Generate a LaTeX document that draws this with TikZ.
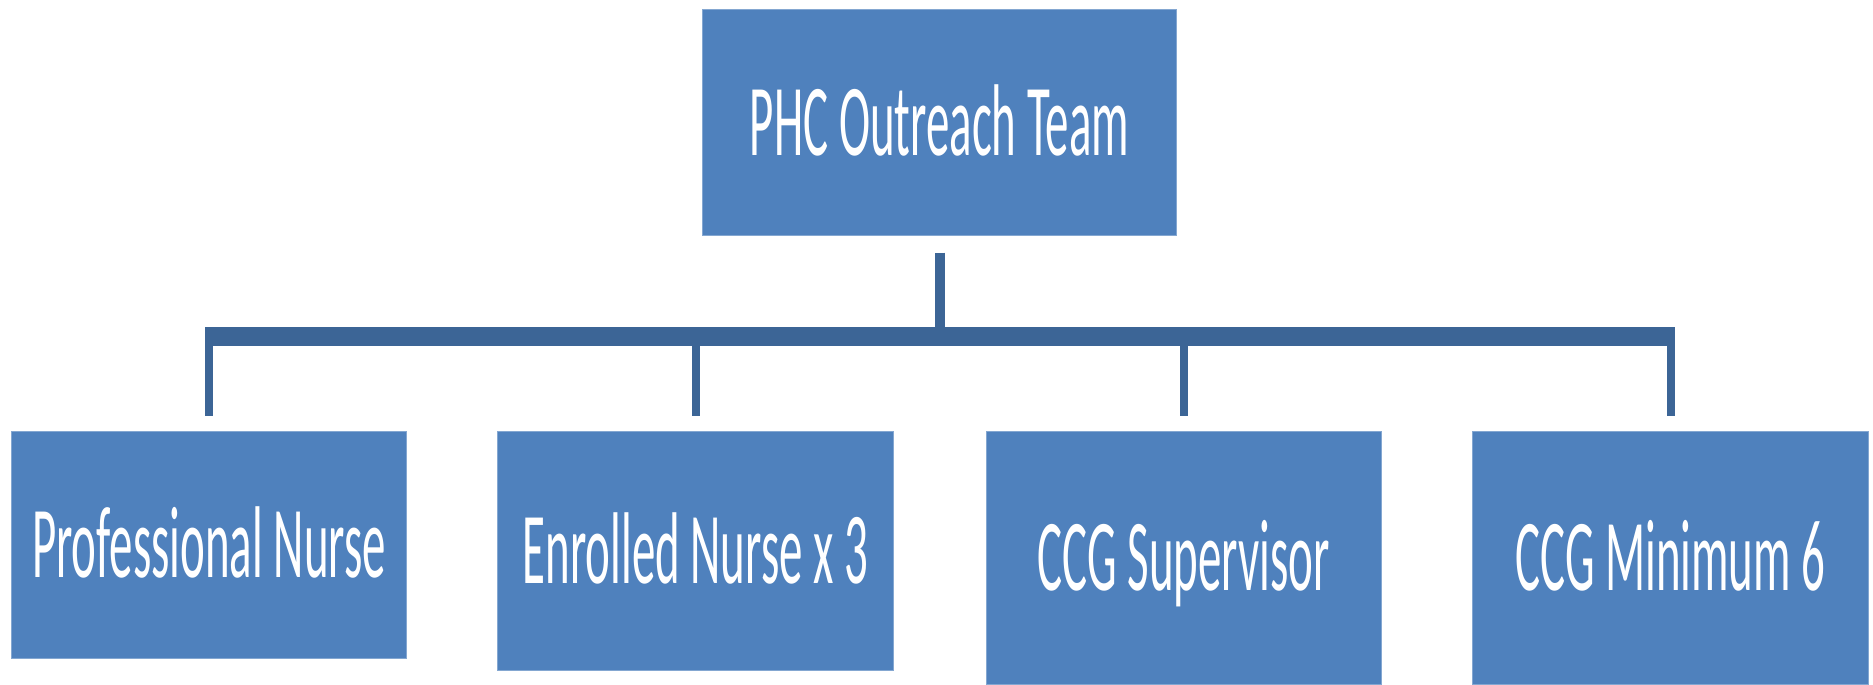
\documentclass[tikz,border=0pt]{standalone}
\usepackage{fontspec}
\setmainfont{Carlito}
\usetikzlibrary{calc}
\definecolor{boxblue}{HTML}{4F81BD}
\definecolor{connblue}{HTML}{3C6596}
\newcommand{\sq}[1]{\scalebox{0.46}[1]{#1}}
\begin{document}
\begin{tikzpicture}[x=0.01cm,y=-0.01cm,
  orgbox/.style={rectangle,fill=boxblue,draw=boxblue!70!white,line width=0.3pt,inner sep=0pt,
    text=white,font=\fontsize{29pt}{34pt}\selectfont,text height=18.7pt,text depth=0pt},
  stubline/.style={draw=connblue,line width=0.1cm},
  dropline/.style={draw=connblue,line width=0.08cm},
  barline/.style={draw=connblue,line width=0.19cm}]
\useasboundingbox (0,0) rectangle (1873,684);
\fill[white] (0,0) rectangle (1873,684);
\node[orgbox,minimum width=4.73cm,minimum height=2.25cm] (top) at (939.5,122.5) {\sq{PHC Outreach Team}};
\node[orgbox,minimum width=3.94cm,minimum height=2.26cm] (pn) at (209,545) {\sq{Professional Nurse}};
\node[orgbox,minimum width=3.95cm,minimum height=2.38cm] (en) at (695.5,551) {\sq{Enrolled Nurse x 3}};
\node[orgbox,minimum width=3.94cm,minimum height=2.52cm] (sup) at (1184,558) {\sq{CCG Supervisor}};
\node[orgbox,minimum width=3.95cm,minimum height=2.52cm] (min) at (1670.5,558) {\sq{CCG Minimum 6}};
\coordinate (bar) at (940,336);
\draw[stubline,shorten <=0.17cm] (top.south) -- (top.south |- bar);
\draw[barline,shorten <=-0.04cm,shorten >=-0.04cm] (pn.north |- bar) -- (min.north |- bar);
\foreach \c in {pn,en,sup,min}
  \draw[dropline,shorten >=0.15cm] (\c.north |- bar) -- (\c.north);
\end{tikzpicture}
\end{document}
